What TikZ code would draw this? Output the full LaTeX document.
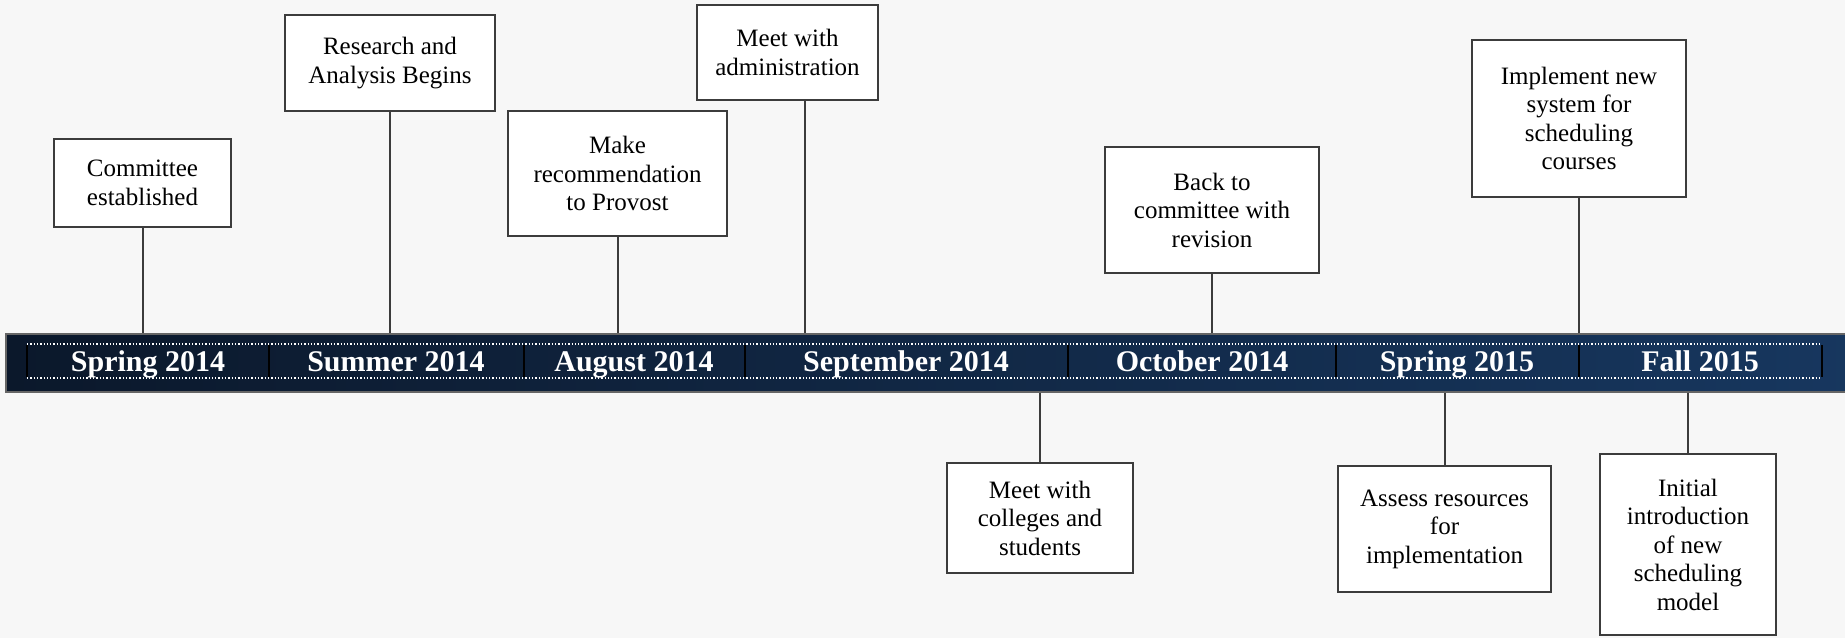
\documentclass[tikz,border=0pt]{standalone}
\usepackage{fontspec}
\setmainfont{Liberation Serif}
\definecolor{paper}{HTML}{F7F7F7}
\definecolor{barleft}{HTML}{0B182B}
\definecolor{barright}{HTML}{17375F}
\definecolor{edge}{HTML}{3C3C3C}
\begin{document}
\begin{tikzpicture}[x=1pt,y=-1pt,
  evt/.style={draw=edge, line width=2pt, fill=white, align=center, inner sep=2pt,
              font=\fontsize{25}{28.5}\selectfont},
  stem/.style={draw=edge, line width=2pt},
  season/.style={text=white, inner sep=0pt, anchor=base, font=\bfseries\fontsize{30}{32}\selectfont},
  divider/.style={draw=black, line width=1.4pt}]
\useasboundingbox (0,0) rectangle (1845,638);
\fill[paper] (0,0) rectangle (1845,638);

% the time bar
\node[draw=black!60, line width=1.5pt, left color=barleft, right color=barright,
      minimum width=1860, minimum height=58, anchor=north west, inner sep=0pt] (bar) at (5,333) {};
\draw[white, dotted, line width=1.3pt] (27,344) -- (1822,344);
\draw[white, dotted, line width=1.3pt] (27,378) -- (1822,378);
\foreach \x in {27,269,524,745,1068,1336,1579,1822}
  \draw[divider] (\x,345) -- (\x,377);

\node[season] (sp14) at (148,371) {Spring 2014};
\node[season] (su14) at (396,371) {Summer 2014};
\node[season] (au14) at (634,371) {August 2014};
\node[season] (se14) at (906,371) {September 2014};
\node[season] (oc14) at (1202,371) {October 2014};
\node[season] (sp15) at (1457,371) {Spring 2015};
\node[season] (fa15) at (1700,371) {Fall 2015};

% events above the bar
\node[evt, minimum width=177, minimum height=88] (est) at (142.5,183) {Committee\\established};
\node[evt, minimum width=210, minimum height=96] (res) at (390,63) {Research and\\Analysis Begins};
\node[evt, minimum width=219, minimum height=125] (rec) at (617.5,173.5) {Make\\recommendation\\to Provost};
\node[evt, minimum width=181, minimum height=95] (adm) at (787.5,52.5) {Meet with\\administration};
\node[evt, minimum width=214, minimum height=126] (bak) at (1212,210) {Back to\\committee with\\revision};
\node[evt, minimum width=214, minimum height=157] (imp) at (1579,118.5) {Implement new\\system for\\scheduling\\courses};

% events below the bar
\node[evt, minimum width=186, minimum height=110] (col) at (1040,518) {Meet with\\colleges and\\students};
\node[evt, minimum width=213, minimum height=126] (ass) at (1444.5,529) {Assess resources\\for\\implementation};
\node[evt, minimum width=176, minimum height=181] (ini) at (1688,544.5) {Initial\\introduction\\of new\\scheduling\\model};

\foreach \n in {est,res,rec,bak,imp}
  \draw[stem] (\n.south) -- (\n.south |- bar.north);
\draw[stem] ([xshift=17.5pt]adm.south) -- ([xshift=17.5pt]adm.south |- bar.north);
\foreach \n in {col,ass,ini}
  \draw[stem] (\n.north) -- (\n.north |- bar.south);
\end{tikzpicture}
\end{document}
